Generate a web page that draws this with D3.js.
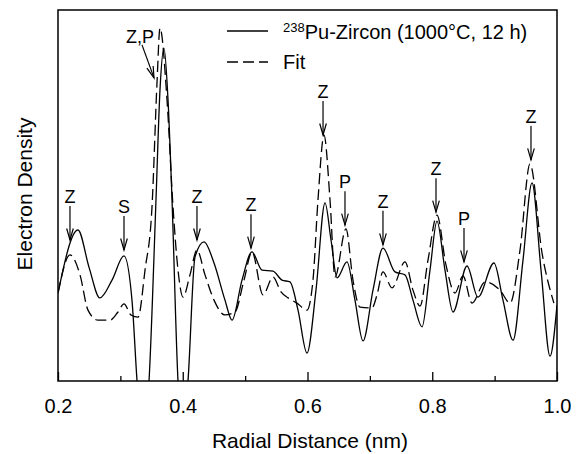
<!DOCTYPE html>
<html>
<head>
<meta charset="utf-8">
<script src="https://cdn.jsdelivr.net/npm/d3@7"></script>
<style>
  body { margin: 0; background: #fff; }
  text { font-family: "Liberation Sans", Arial, Helvetica, sans-serif; fill: #000; }
</style>
</head>
<body>
<svg id="chart" width="583" height="454"></svg>
<script>
// measured electron density (arbitrary units) vs radial distance (nm)
let solidX = [0.200,0.232,0.250,0.267,0.2866,0.3058,0.3186,0.3267,0.3315,0.3363,0.3459,0.3571,0.3635,0.3699,0.3764,0.3828,0.3924,0.4004,0.4084,0.4196,0.4341,0.4501,0.4677,0.4790,0.4950,0.5110,0.5270,0.5447,0.5591,0.5719,0.5848,0.5992,0.6136,0.6281,0.6377,0.6473,0.6633,0.6761,0.6890,0.7050,0.7210,0.7403,0.7563,0.7691,0.7836,0.7964,0.8076,0.8204,0.8333,0.8557,0.8733,0.8990,0.9134,0.9295,0.9455,0.9599,0.9744,0.9888,1.000]
let solidY = [2.37,4.07,3.05,2.24,2.72,3.37,2.18,0.00,-1.05,-1.59,0.00,4.88,7.84,8.97,7.57,4.88,0.00,-1.32,0.00,3.34,3.75,3.18,2.18,1.64,2.72,3.48,2.99,2.96,2.72,2.67,1.91,0.75,2.45,4.80,3.80,2.78,3.21,2.18,1.08,2.45,3.58,2.94,2.86,2.18,1.46,2.99,4.31,2.99,1.86,3.10,2.26,3.18,2.18,1.10,3.26,5.34,2.99,0.67,2.05]

// fit
let fitX = [0.200,0.2192,0.2353,0.2481,0.2641,0.2834,0.2962,0.3058,0.3170,0.3283,0.3395,0.3507,0.3587,0.3635,0.3748,0.3844,0.3924,0.4004,0.4116,0.4228,0.4357,0.4501,0.4677,0.4838,0.4982,0.5110,0.5287,0.5447,0.5575,0.5687,0.5831,0.5992,0.6088,0.6168,0.6265,0.6361,0.6441,0.6617,0.6729,0.6842,0.7034,0.7114,0.7210,0.7355,0.7563,0.7691,0.7804,0.7932,0.8076,0.8220,0.8365,0.8493,0.8637,0.8846,0.9086,0.9247,0.9407,0.9567,0.9760,0.995]
let fitY = [2.37,3.40,2.86,1.91,1.64,1.64,1.86,2.08,1.78,1.72,2.99,4.69,8.03,9.51,7.57,4.69,2.99,2.26,2.86,3.53,2.86,2.18,1.78,1.86,2.72,3.48,2.32,2.80,2.40,2.24,2.10,1.91,2.72,4.88,6.63,4.88,2.80,4.10,2.72,1.99,1.97,2.32,2.94,2.51,3.21,2.45,2.02,3.26,4.47,3.13,2.37,2.83,2.10,2.67,2.45,2.10,3.53,5.85,3.45,2.10]

// peak assignments: label, x (nm), arrow tip (density)
let peakLabels = ["Z","S","Z","Z","Z","P","Z","Z","P","Z"]
let peakX = [0.2192,0.3058,0.4228,0.5094,0.6249,0.6601,0.7210,0.8060,0.8509,0.9583]
let peakTip = [3.80,3.53,3.80,3.58,6.63,4.20,3.67,4.55,3.21,5.96]

let xTicksMajor = [0.2,0.4,0.6,0.8,1.0]
let xTicksMinor = [0.3,0.5,0.7,0.9]

let svg = d3.select("#chart")

//dimensions
let margin = {top: 10, right: 26, bottom: 73, left: 58}
let width = 583 - margin.left - margin.right
let height = 454 - margin.top - margin.bottom

let x = d3.scaleLinear().domain([0.2, 1.0]).range([0, width])
let y = d3.scaleLinear().domain([0, 10]).range([height, 0])

let g = svg.append("g").attr("transform", "translate(" + margin.left + "," + margin.top + ")")

g.append("clipPath").attr("id", "clip")
  .append("rect").attr("width", width).attr("height", height)

let line = d3.line()
  .x(d => x(d[0]))
  .y(d => y(d[1]))
  .curve(d3.curveMonotoneX)

let solid = solidX.map((v, i) => [v, solidY[i]])
let fit = fitX.map((v, i) => [v, fitY[i]])

g.append("path")
  .datum(fit)
  .attr("clip-path", "url(#clip)")
  .attr("d", line)
  .attr("fill", "none")
  .attr("stroke", "#000")
  .attr("stroke-width", 1.3)
  .attr("stroke-dasharray", "11,5")

g.append("path")
  .datum(solid)
  .attr("clip-path", "url(#clip)")
  .attr("d", line)
  .attr("fill", "none")
  .attr("stroke", "#000")
  .attr("stroke-width", 1.3)

//frame
g.append("rect")
  .attr("width", width).attr("height", height)
  .attr("fill", "none").attr("stroke", "#000").attr("stroke-width", 1.5)

//x axis (inward ticks)
let xAxis = g.append("g")
  .attr("transform", "translate(0," + height + ")")
  .call(d3.axisBottom(x).tickValues(xTicksMajor).tickSize(-9).tickPadding(18).tickFormat(d3.format(".1f")))
xAxis.select(".domain").remove()
xAxis.selectAll("line").attr("stroke-width", 1.3)
xAxis.selectAll("text").style("font-size", "20px").style("font-family", "Liberation Sans, Arial, sans-serif")

let xMinor = g.append("g")
  .attr("transform", "translate(0," + height + ")")
  .call(d3.axisBottom(x).tickValues(xTicksMinor).tickSize(-5).tickFormat(""))
xMinor.select(".domain").remove()
xMinor.selectAll("line").attr("stroke-width", 1.3)

//axis titles
svg.append("text")
  .attr("x", 310).attr("y", 448)
  .attr("text-anchor", "middle")
  .style("font-size", "21px")
  .text("Radial Distance (nm)")

svg.append("text")
  .attr("transform", "translate(32,194) rotate(-90)")
  .attr("text-anchor", "middle")
  .style("font-size", "21px")
  .text("Electron Density")

//peak arrows
function arrow(sel, x1, y1, x2, y2) {
  sel.append("line")
    .attr("x1", x1).attr("y1", y1).attr("x2", x2).attr("y2", y2)
    .attr("stroke", "#000").attr("stroke-width", 1.2)
  let a = Math.atan2(y2 - y1, x2 - x1)
  let len = 12, spread = 0.28
  let p = "M" + (x2 - len * Math.cos(a - spread)) + "," + (y2 - len * Math.sin(a - spread)) +
    "L" + x2 + "," + y2 +
    "L" + (x2 - len * Math.cos(a + spread)) + "," + (y2 - len * Math.sin(a + spread))
  sel.append("path").attr("d", p).attr("fill", "none").attr("stroke", "#000").attr("stroke-width", 1.2)
}

let ann = g.append("g")
peakLabels.forEach((lab, i) => {
  let px = x(peakX[i]), tip = y(peakTip[i])
  arrow(ann, px, tip - 34, px, tip)
  ann.append("text")
    .attr("x", px).attr("y", tip - 37)
    .attr("text-anchor", "middle")
    .style("font-size", "18px")
    .text(lab)
})

//Z,P label with slanted arrow onto the main peak
let zpX = 0.3539, zpTip = 8.17
arrow(ann, x(zpX) - 12, y(zpTip) - 33, x(zpX), y(zpTip))
ann.append("text")
  .attr("x", x(zpX) - 14).attr("y", y(zpTip) - 35)
  .attr("text-anchor", "middle")
  .style("font-size", "18px")
  .text("Z,P")

//legend
let leg = svg.append("g")
leg.append("line").attr("x1", 227).attr("x2", 268).attr("y1", 31).attr("y2", 31)
  .attr("stroke", "#000").attr("stroke-width", 1.3)
leg.append("line").attr("x1", 227).attr("x2", 268).attr("y1", 62).attr("y2", 62)
  .attr("stroke", "#000").attr("stroke-width", 1.3).attr("stroke-dasharray", "11,5")

let t1 = leg.append("text").attr("x", 283).attr("y", 39).style("font-size", "20px")
t1.append("tspan").attr("dy", -7).style("font-size", "13px").text("238")
t1.append("tspan").attr("dy", 7).text("Pu-Zircon (1000°C, 12 h)")

leg.append("text").attr("x", 283).attr("y", 69).style("font-size", "20px").text("Fit")
</script>
</body>
</html>
